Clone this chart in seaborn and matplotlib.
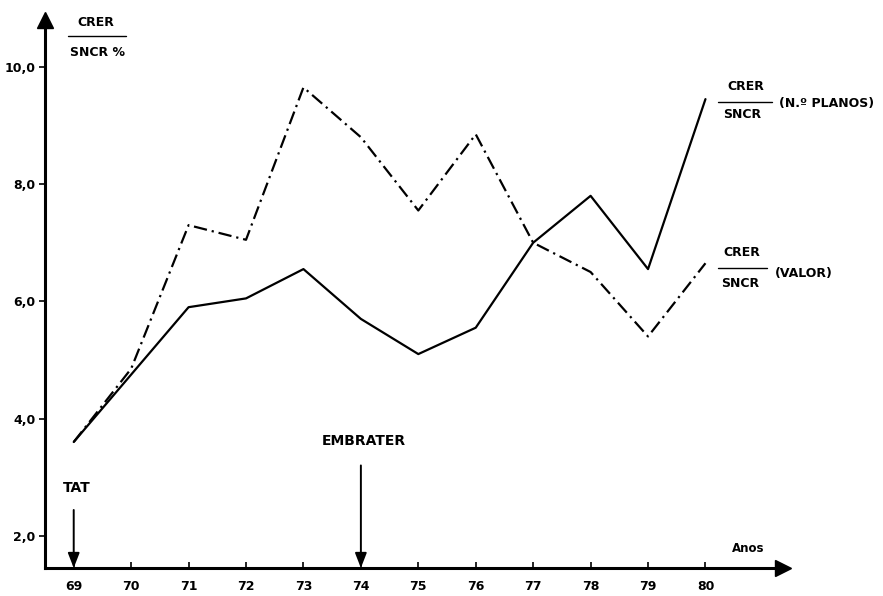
import matplotlib
matplotlib.use("Agg")
import matplotlib.pyplot as plt
from matplotlib.lines import Line2D
import pandas as pd
import seaborn as sns

# values (CRER / SNCR, in %)
anos = [69, 70, 71, 72, 73, 74, 75, 76, 77, 78, 79, 80]
planos = [3.6, 4.75, 5.9, 6.05, 6.55, 5.7, 5.1, 5.55, 7.0, 7.8, 6.55, 9.45]
valor = [3.6, 4.85, 7.3, 7.05, 9.65, 8.8, 7.55, 8.85, 7.0, 6.5, 5.4, 6.65]
y_ticks = [2, 4, 6, 8, 10]
y_labels = ["2,0", "4,0", "6,0", "8,0", "10,0"]

df = pd.concat([
    pd.DataFrame({"ano": anos, "pct": planos, "serie": "planos"}),
    pd.DataFrame({"ano": anos, "pct": valor, "serie": "valor"}),
])

sns.set_style("ticks")
plt.rcParams["font.family"] = ["DejaVu Sans"]
plt.rcParams["text.color"] = "black"
plt.rcParams["xtick.color"] = "black"
plt.rcParams["ytick.color"] = "black"
FONT = dict(fontsize=9, fontweight="bold")

W, H = 883, 596
fig = plt.figure(figsize=(W / 100, H / 100), dpi=100)
ax = fig.add_axes([45 / W, 1 - 568 / H, (783 - 45) / W, (568 - 20) / H])

sns.lineplot(data=df, x="ano", y="pct", style="serie", color="black",
             dashes={"planos": "", "valor": (6.0, 2.2, 1.0, 2.2)},
             linewidth=1.6, legend=False, ax=ax)

ax.set_xlim(68.5, 81.35)
ax.set_ylim(1.45, 10.8)
ax.set_xticks(anos)
ax.set_xticklabels([str(a) for a in anos], **FONT)
ax.set_yticks(y_ticks)
ax.set_yticklabels(y_labels, **FONT)
ax.tick_params(axis="x", direction="in", length=4, width=1.2, pad=9)
ax.tick_params(axis="y", direction="out", length=4, width=1.2, pad=3)
ax.set_xlabel("")
ax.set_ylabel("")
sns.despine(ax=ax)
for s in ("left", "bottom"):
    ax.spines[s].set_linewidth(2.2)
    ax.spines[s].set_color("black")

# axis arrowheads
ax.plot(1, 0, marker=">", ms=11, color="black", transform=ax.transAxes, clip_on=False)
ax.plot(0, 1, marker="^", ms=11, color="black", transform=ax.transAxes, clip_on=False)


def ftext(px, py, s, size=9, ha="center"):
    fig.text(px / W, 1 - py / H, s, ha=ha, va="center", fontsize=size, fontweight="bold")


def fline(x0, x1, py):
    fig.add_artist(Line2D([x0 / W, x1 / W], [1 - py / H, 1 - py / H],
                          transform=fig.transFigure, color="black", lw=1.0))


# y-axis title as a fraction
ftext(96, 22, "CRER", 9)
fline(68, 126, 36)
ftext(98, 52, "SNCR %", 9)

# series labels
ftext(746, 87, "CRER", 9)
fline(718, 772, 102)
ftext(742, 114, "SNCR", 9)
ftext(779, 104, "(N.º PLANOS)", 9, ha="left")

ftext(742, 253, "CRER", 9)
fline(718, 767, 268)
ftext(740, 283, "SNCR", 9)
ftext(775, 273, "(VALOR)", 9, ha="left")

ftext(732, 548, "Anos", 8.5, ha="left")

# events
arrow = dict(arrowstyle="-|>,head_length=0.9,head_width=0.35", color="black", lw=1.4,
             shrinkA=0, shrinkB=0)
ax.annotate("", xy=(69, 1.45), xytext=(69, 2.44), arrowprops=arrow)
ax.text(69.05, 2.82, "TAT", ha="center", va="center", fontsize=10, fontweight="bold")
ax.annotate("", xy=(74, 1.45), xytext=(74, 3.2), arrowprops=arrow)
ax.text(74.05, 3.61, "EMBRATER", ha="center", va="center", fontsize=10, fontweight="bold")

fig.savefig("out.png", dpi=100)
